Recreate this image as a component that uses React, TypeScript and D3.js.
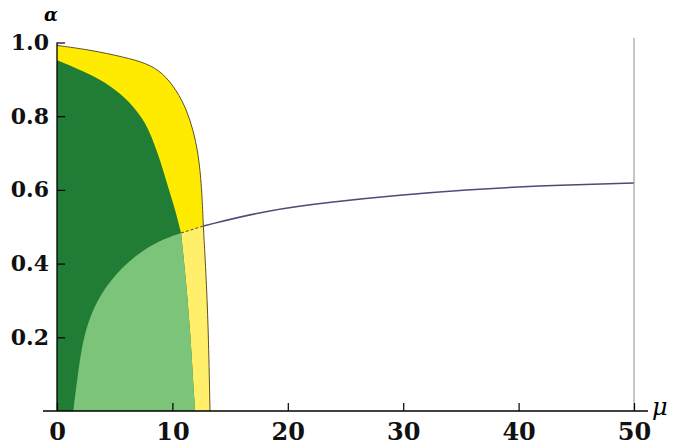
import React, { useEffect, useRef } from "react";
import * as d3 from "d3";

// outer (yellow) boundary, [mu, alpha]: upper part down to the separator, then lower part to the mu axis
const outerUpper: [number, number][] = [
  [0, 0.992], [2.86, 0.98], [5.72, 0.961], [7.77, 0.944], [9.19, 0.917],
  [10.37, 0.87], [11.24, 0.817], [11.79, 0.763], [12.24, 0.7], [12.54, 0.609],
  [12.68, 0.502],
];
const outerLower: [number, number][] = [
  [12.68, 0.502], [12.9, 0.38], [13.11, 0.229], [13.26, 0],
];

// dark green upper boundary
const darkGreenTop: [number, number][] = [
  [0, 0.952], [1.39, 0.934], [3.73, 0.901], [5.46, 0.863], [6.67, 0.825],
  [7.63, 0.784], [8.32, 0.735], [8.93, 0.681], [9.45, 0.627], [9.97, 0.573],
  [10.36, 0.532], [10.75, 0.483],
];

// light green upper-left boundary
const lightGreenTop: [number, number][] = [
  [1.41, 0], [1.85, 0.111], [2.28, 0.2], [3.15, 0.283], [4.59, 0.355],
  [6.61, 0.419], [8.93, 0.464], [10.75, 0.483],
];

// light green right edge
const lightGreenRight: [number, number][] = [
  [10.75, 0.483], [11.09, 0.383], [11.53, 0.229], [11.96, 0],
];

// blue curve
const blueCurve: [number, number][] = [
  [12.68, 0.502], [18.17, 0.545], [23.94, 0.568], [29.72, 0.586],
  [35.5, 0.6], [41.27, 0.611], [50, 0.619],
];

const xMajor = [0, 10, 20, 30, 40, 50];
const xMinor = d3.range(0, 51, 2).filter((v) => v % 10 !== 0);
const yMajor = [0.2, 0.4, 0.6, 0.8, 1.0];
const yMinor = d3.range(0.05, 1.0, 0.05).filter((v) => Math.abs(v * 5 - Math.round(v * 5)) > 1e-6);

const App = () => {
  const ref = useRef<SVGSVGElement | null>(null);

  useEffect(() => {
    const svg = d3.select(ref.current);
    svg.selectAll("*").remove();

    const x = d3.scaleLinear().domain([0, 50]).range([57, 634]);
    const y = d3.scaleLinear().domain([0, 1]).range([411, 42.5]);

    const line = d3
      .line<[number, number]>()
      .x((d) => x(d[0]))
      .y((d) => y(d[1]))
      .curve(d3.curveBasis);
    const straight = d3
      .line<[number, number]>()
      .x((d) => x(d[0]))
      .y((d) => y(d[1]));

    // join several smooth segments into one closed path
    const joinPath = (...segs: [number, number][][]) =>
      segs.map((s, i) => (i === 0 ? line(s) : line(s)!.replace(/^M/, "L"))).join("") + "Z";

    const fontTicks = "'DejaVu Serif', serif";

    // yellow full region
    svg.append("path")
      .attr("d", joinPath([[0, 0]], outerUpper, outerLower))
      .attr("fill", "#FFEB00");

    // light yellow below separator
    svg.append("path")
      .attr("d", joinPath(outerLower, [[11.96, 0]], lightGreenRight.slice().reverse()))
      .attr("fill", "#FFEF6A");

    // dark green
    svg.append("path")
      .attr("d", joinPath([[0, 0]], darkGreenTop, lightGreenRight))
      .attr("fill", "#217C35");

    // light green
    svg.append("path")
      .attr("d", joinPath(lightGreenTop, lightGreenRight))
      .attr("fill", "#7CC47A");

    // outline of the yellow region
    svg.append("path")
      .attr("d", line(outerUpper)! + line(outerLower)!.replace(/^M/, "L"))
      .attr("fill", "none")
      .attr("stroke", "#5e5128")
      .attr("stroke-width", 1);

    // dashed separator
    svg.append("path")
      .attr("d", straight([darkGreenTop[darkGreenTop.length - 1], outerLower[0]]))
      .attr("fill", "none")
      .attr("stroke", "#4a4a3a")
      .attr("stroke-width", 1)
      .attr("stroke-dasharray", "3,2");

    // blue curve
    svg.append("path")
      .attr("d", line(blueCurve))
      .attr("fill", "none")
      .attr("stroke", "#4B4C78")
      .attr("stroke-width", 1.5);

    // right frame line
    svg.append("line")
      .attr("x1", x(50)).attr("x2", x(50))
      .attr("y1", 38).attr("y2", y(0))
      .attr("stroke", "#8a8a8a")
      .attr("stroke-width", 1);

    // x axis
    const gx = svg.append("g").attr("transform", `translate(0,${y(0)})`);
    gx.call(d3.axisBottom(x).tickValues(xMinor).tickSize(-4).tickFormat(() => ""));
    gx.call(
      d3.axisBottom(x).tickValues(xMajor).tickSize(-8).tickPadding(12).tickFormat(d3.format("d"))
    );
    gx.selectAll(".domain").remove();
    gx.append("line").attr("x1", 43).attr("x2", 648).attr("stroke", "#000").attr("stroke-width", 1.3);

    // y axis
    const gy = svg.append("g").attr("transform", `translate(${x(0)},0)`);
    gy.call(d3.axisLeft(y).tickValues(yMinor).tickSize(-4).tickFormat(() => ""));
    gy.call(
      d3.axisLeft(y).tickValues(yMajor).tickSize(-8).tickPadding(8).tickFormat(d3.format(".1f"))
    );
    gy.selectAll(".domain").remove();
    gy.append("line").attr("y1", y(0)).attr("y2", y(1)).attr("stroke", "#000").attr("stroke-width", 1.3);

    svg.selectAll(".tick line").attr("stroke", "#000").attr("stroke-width", 1.2);
    svg.selectAll(".tick text")
      .attr("fill", "#111")
      .style("font-family", fontTicks)
      .style("font-weight", "bold")
      .style("font-size", "24px");
    gy.selectAll(".tick text").style("font-size", "22px");

    // axis names
    svg.append("text")
      .attr("x", 51).attr("y", 21)
      .attr("text-anchor", "middle")
      .style("font-family", "'DejaVu Serif', serif")
      .style("font-style", "italic")
      .style("font-weight", "bold")
      .style("font-size", "18px")
      .text("α");
    svg.append("text")
      .attr("x", 652).attr("y", 415)
      .style("font-family", "'DejaVu Serif', serif")
      .style("font-style", "italic")
      .style("font-size", "24px")
      .text("μ");
  }, []);

  return (
    <div style={{ position: "absolute", left: 0, top: 0, background: "#fff" }}>
      <svg ref={ref} width={680} height={448} style={{ display: "block" }} />
    </div>
  );
};

export default App;
